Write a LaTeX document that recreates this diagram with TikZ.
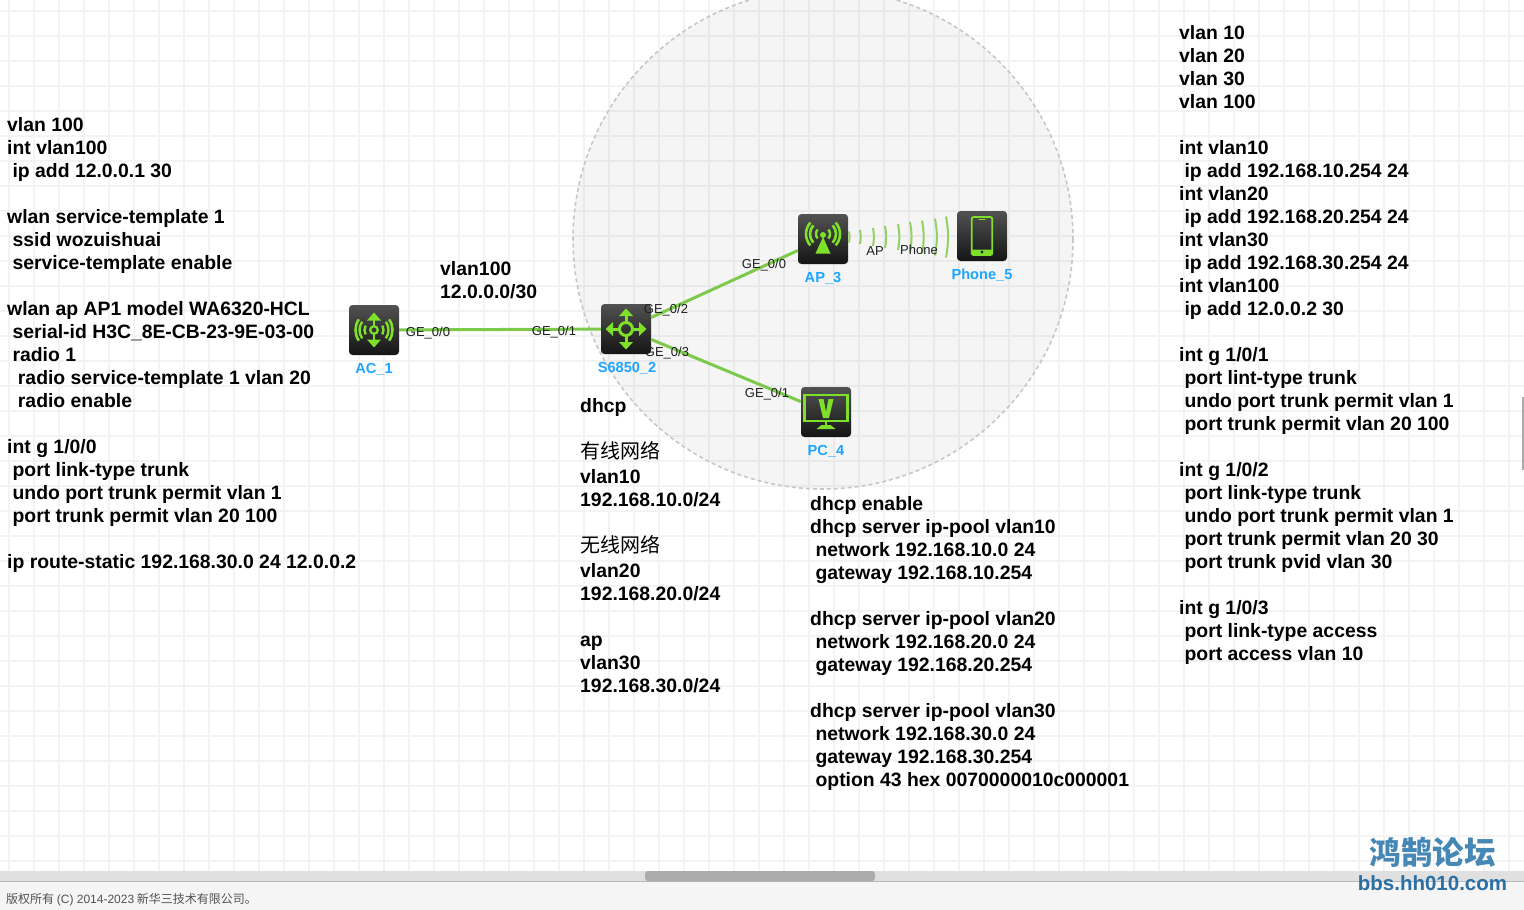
\documentclass[tikz,border=0pt]{standalone}
\usepackage{fontspec}
\setmainfont{Liberation Sans}
\newfontfamily\cjk{Noto Sans CJK SC}
\newfontfamily\lib{Liberation Sans}
\definecolor{gridc}{HTML}{F3F3F3}
\definecolor{glyph}{HTML}{7FE02A}
\definecolor{linkc}{HTML}{7DC94B}
\definecolor{wavec}{HTML}{93D065}
\definecolor{namec}{HTML}{1FA5FF}
\definecolor{wmone}{HTML}{4688B5}
\definecolor{wmtwo}{HTML}{2C6FA3}
\newcommand{\sk}{\hspace*{5.37pt}}
\newcommand{\skk}{\hspace*{10.75pt}}
\newcommand{\fst}{\rule{0pt}{15pt}}
\newcommand{\cjkline}[1]{{\normalfont\fontsize{20}{23}\selectfont\cjk #1}}
\tikzset{
  cfg/.style={anchor=north west,inner sep=0pt,align=left,text=black,font=\fontsize{19.38}{23}\selectfont\lib\bfseries},
  dev/.style={rectangle,rounded corners=3.5pt,minimum size=50pt,inner sep=0pt,top color=black!68,bottom color=black!92},
  link/.style={draw=linkc,line width=3pt},
  port/.style={inner sep=0pt,text=black!88,font=\fontsize{13}{15}\selectfont\lib},
  dname/.style={inner sep=0pt,text=namec,font=\fontsize{14.6}{17}\selectfont\lib\bfseries},
  gl/.style={draw=glyph,line width=2pt,line cap=round},
  wave/.style={draw=wavec,line width=2pt}
}
\begin{document}
\begin{tikzpicture}[x=1pt,y=-1pt]
\useasboundingbox (0,0) rectangle (1524,910);
\fill[white] (0,0) rectangle (1524,910);
% grid
\foreach \gx in {9,34,...,1524} \draw[gridc,line width=2pt] (\gx,0) -- (\gx,871);
\foreach \gy in {11,36,...,871} \draw[gridc,line width=2pt] (0,\gy) -- (1524,\gy);
% area circle
\begin{scope}
\clip (0,0) rectangle (1524,871);
\draw[draw=black!22,line width=1.6pt,dash pattern=on 4pt off 3pt,fill=black,fill opacity=0.04] (823,239) circle[radius=250];
\end{scope}
% devices
\node[dev] (ac) at (374,330) {};
\node[dev] (sw) at (626,329) {};
\node[dev] (ap) at (823,239) {};
\node[dev] (ph) at (982,236) {};
\node[dev] (pc) at (826,412) {};
% links
\draw[link] (ac) -- (sw);
\draw[link] (sw) -- (ap);
\draw[link] (sw) -- (pc);
% wireless
\foreach \wx/\wh in {849/5.5,860/7,873/9,885/11,898/13,910/15,922/16.5,935/18.5,946/20.5}
  \draw[wave] (\wx,237-\wh) to[bend left=10] (\wx,237+\wh);
% AC glyph
\begin{scope}[shift={(ac.center)}]
\draw[gl,line cap=butt,line width=2.6pt] (0,-11) -- (0,-4) (0,4) -- (0,11);
\fill[glyph] (0,-17.5) -- (7,-9.5) -- (-7,-9.5) -- cycle;
\fill[glyph] (0,17.5) -- (7,9.5) -- (-7,9.5) -- cycle;
\draw[gl,line cap=butt,line width=2.2pt] (0,0) circle[radius=3.8];
\foreach \s in {1,-1}{
 \begin{scope}[xscale=\s]
 \draw[gl,line cap=butt,line width=2.4pt] (-28:9.5) arc[start angle=-28,end angle=28,radius=9.5];
 \draw[gl,line cap=butt,line width=2.4pt] (-35:14.5) arc[start angle=-35,end angle=35,radius=14.5];
 \draw[gl,line cap=butt,line width=2.6pt] (-35:18.5) arc[start angle=-35,end angle=35,radius=18.5];
 \end{scope}
}
\end{scope}
% switch glyph
\begin{scope}[shift={(sw.center)}]
\draw[gl,line cap=butt,line width=3pt] (0,0) circle[radius=6.5];
\foreach \r in {0,90,180,270}{
 \draw[gl,line cap=butt,line width=3pt,rotate=\r] (7,0) -- (14,0);
 \fill[glyph,rotate=\r] (20.5,0) -- (13,-7) -- (13,7) -- cycle;
}
\end{scope}
% AP glyph
\begin{scope}[shift={(ap.center)}]
\fill[glyph] (0,-4) circle[radius=3];
\fill[glyph] (0,-2) -- (7.5,14.5) -- (-7.5,14.5) -- cycle;
\foreach \s in {1,-1}{
 \begin{scope}[xscale=\s,shift={(0,-5)}]
 \draw[gl,line cap=butt,line width=2.4pt] (-40:7) arc[start angle=-40,end angle=40,radius=7];
 \draw[gl,line cap=butt,line width=2.6pt] (-42:13) arc[start angle=-42,end angle=42,radius=13];
 \draw[gl,line cap=butt,line width=2.6pt] (-42:17) arc[start angle=-42,end angle=42,radius=17];
 \end{scope}
}
\end{scope}
% phone glyph
\begin{scope}[shift={(ph.center)}]
\draw[gl,line width=1.8pt,rounded corners=2pt] (-10.3,-19) rectangle (10.3,19);
\fill[glyph,rounded corners=1.5pt] (-10.3,13.5) rectangle (10.3,19.5);
\fill[black!85] (0,16) circle[radius=1.6];
\draw[gl,line width=1pt] (-3,-17) -- (3,-17);
\end{scope}
% PC glyph
\begin{scope}[shift={(pc.center)}]
\draw[gl,line cap=butt,line width=2.4pt] (-21.5,-17) rectangle (21.5,9);
\fill[glyph] (-7.5,-13) -- (-2.5,-13) -- (0,0) -- (2.5,-13) -- (7.5,-13) -- (3,6) -- (-3,6) -- cycle;
\fill[glyph] (-1,9) rectangle (1,13.5);
\fill[glyph] (-4.5,13) -- (4.5,13) -- (9.5,17) -- (-9.5,17) -- cycle;
\end{scope}
% port labels
\node[port] (p1) at (428,333) {GE\_0/0};
\node[port] (p2) at (554,332) {GE\_0/1};
\node[port] (p3) at (666,310) {GE\_0/2};
\node[port] (p4) at (667,353) {GE\_0/3};
\node[port] (p5) at (764,265) {GE\_0/0};
\node[port] (p6) at (767,394) {GE\_0/1};
\node[port] (p7) at (875,251) {AP};
\node[port] (p8) at (919,250) {Phone};
% device names
\node[dname] (n1) at (374,369) {AC\_1};
\node[dname] (n2) at (627,368) {S6850\_2};
\node[dname] (n3) at (823,278) {AP\_3};
\node[dname] (n4) at (982,275) {Phone\_5};
\node[dname] (n5) at (826,451) {PC\_4};
% config text
\node[cfg] (t1) at (7,116) {\fst vlan 100\\
int vlan100\\
\sk ip add 12.0.0.1 30\\
\mbox{}\\
wlan service-template 1\\
\sk ssid wozuishuai\\
\sk service-template enable\\
\mbox{}\\
wlan ap AP1 model WA6320-HCL\\
\sk serial-id H3C\_8E-CB-23-9E-03-00\\
\sk radio 1\\
\skk radio service-template 1 vlan 20\\
\skk radio enable\\
\mbox{}\\
int g 1/0/0\\
\sk port link-type trunk\\
\sk undo port trunk permit vlan 1\\
\sk port trunk permit vlan 20 100\\
\mbox{}\\
ip route-static 192.168.30.0 24 12.0.0.2};
\node[cfg] (t2) at (440,260) {\fst vlan100\\
12.0.0.0/30};
\node[cfg] (t3) at (580,397) {\fst dhcp\\
\mbox{}\\
\cjkline{有线网络}\\[2pt]
vlan10\\
192.168.10.0/24\\
\mbox{}\\
\cjkline{无线网络}\\[2pt]
vlan20\\
192.168.20.0/24\\
\mbox{}\\
ap\\
vlan30\\
192.168.30.0/24};
\node[cfg] (t4) at (810,495) {\fst dhcp enable\\
dhcp server ip-pool vlan10\\
\sk network 192.168.10.0 24\\
\sk gateway 192.168.10.254\\
\mbox{}\\
dhcp server ip-pool vlan20\\
\sk network 192.168.20.0 24\\
\sk gateway 192.168.20.254\\
\mbox{}\\
dhcp server ip-pool vlan30\\
\sk network 192.168.30.0 24\\
\sk gateway 192.168.30.254\\
\sk option 43 hex 0070000010c000001};
\node[cfg] (t5) at (1179,24) {\fst vlan 10\\
vlan 20\\
vlan 30\\
vlan 100\\
\mbox{}\\
int vlan10\\
\sk ip add 192.168.10.254 24\\
int vlan20\\
\sk ip add 192.168.20.254 24\\
int vlan30\\
\sk ip add 192.168.30.254 24\\
int vlan100\\
\sk ip add 12.0.0.2 30\\
\mbox{}\\
int g 1/0/1\\
\sk port lint-type trunk\\
\sk undo port trunk permit vlan 1\\
\sk port trunk permit vlan 20 100\\
\mbox{}\\
int g 1/0/2\\
\sk port link-type trunk\\
\sk undo port trunk permit vlan 1\\
\sk port trunk permit vlan 20 30\\
\sk port trunk pvid vlan 30\\
\mbox{}\\
int g 1/0/3\\
\sk port link-type access\\
\sk port access vlan 10};
% page chrome
\fill[black!12] (0,871) rectangle (1524,881);
\fill[black!4] (0,882) rectangle (1524,910);
\draw[black!28,line width=1pt] (0,881.5) -- (1524,881.5);
\fill[black!33,rounded corners=3pt] (645,871) rectangle (875,881);
\fill[black!33] (1522,397) rectangle (1524,470);
\node[anchor=west,inner sep=0pt,text=black!68,font=\fontsize{12}{14}\selectfont\cjk] (foot) at (6,899.5) {版权所有 {\lib (C) 2014-2023} 新华三技术有限公司。};
% watermark
\node[inner sep=0pt,text=wmone,font=\fontsize{31.5}{34}\selectfont\cjk\bfseries] (wm1) at (1432.5,852) {鸿鹄论坛};
\node[inner sep=0pt,text=wmtwo,font=\fontsize{20.5}{23}\selectfont\lib\bfseries] (wm2) at (1432.5,883) {bbs.hh010.com};
\end{tikzpicture}
\end{document}
